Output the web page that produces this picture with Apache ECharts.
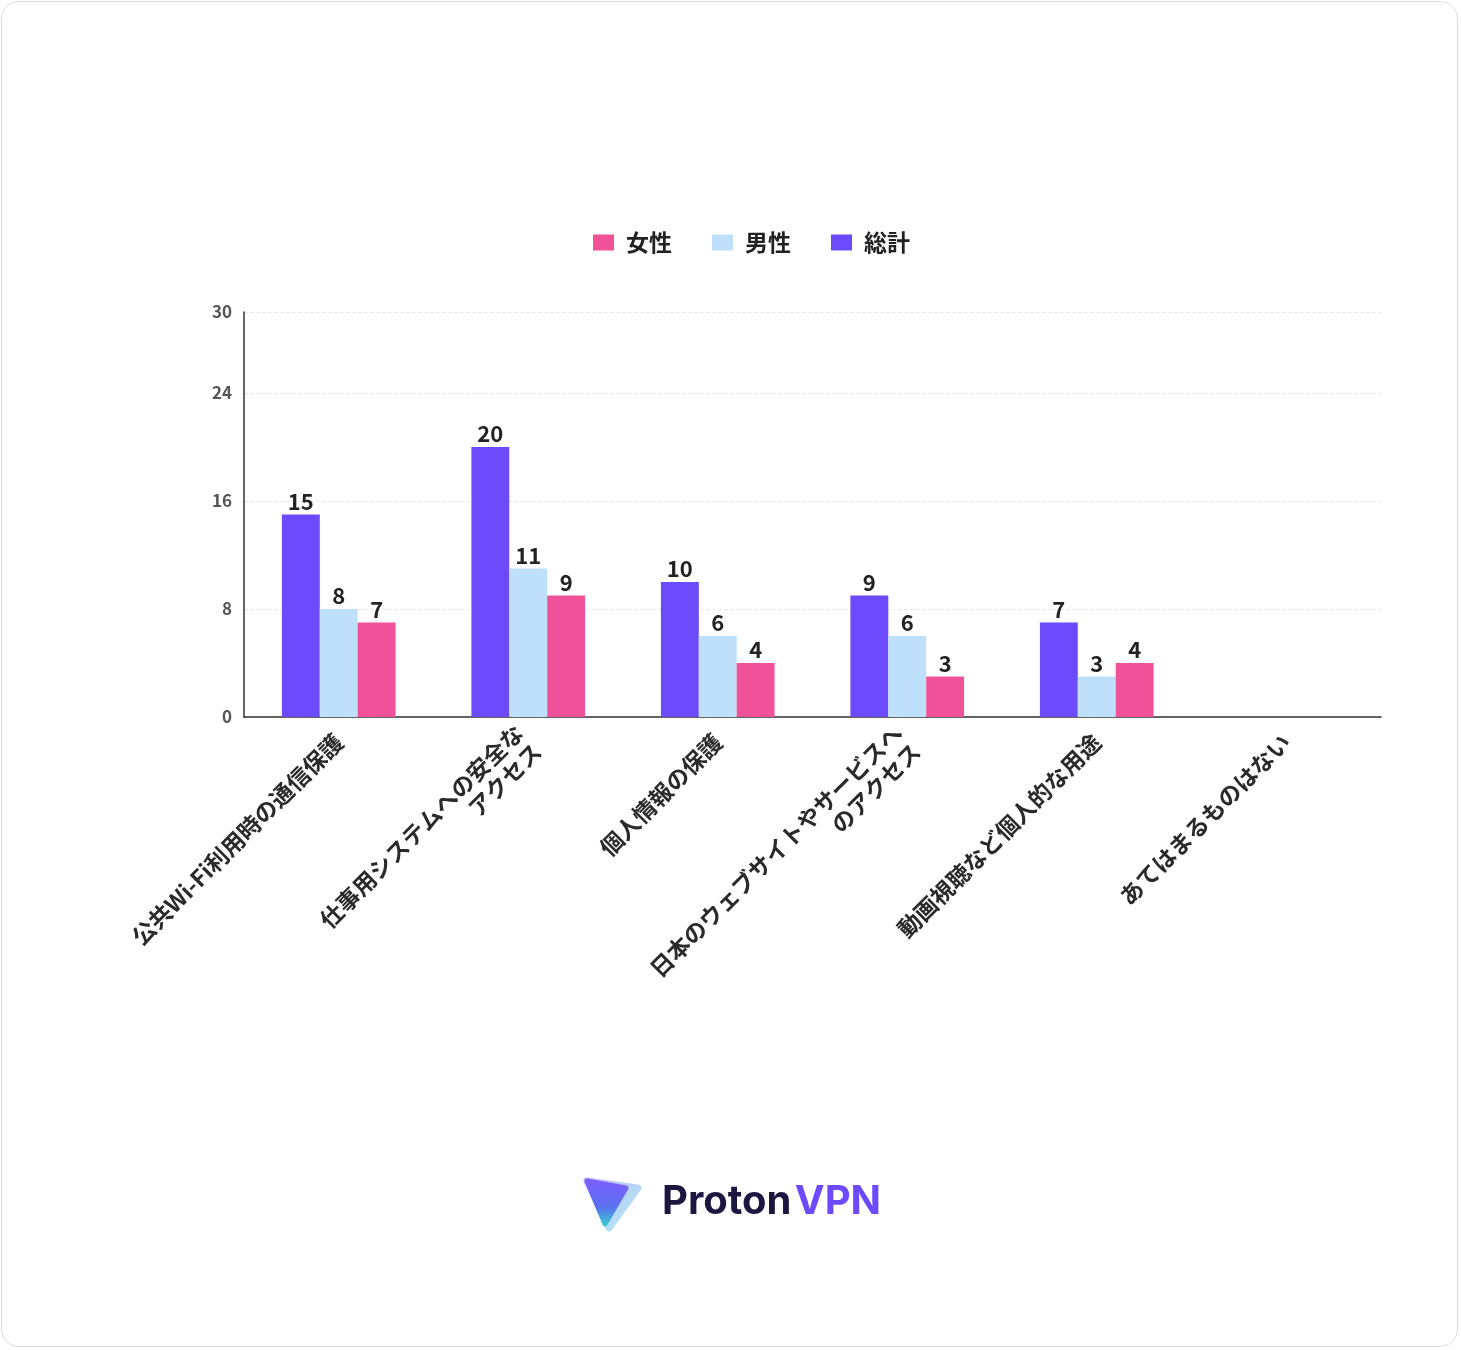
<!DOCTYPE html>
<html>
<head>
<meta charset="utf-8">
<script src="https://cdn.jsdelivr.net/npm/echarts@6/dist/echarts.min.js"></script>
<style>
  html, body { margin: 0; padding: 0; background: #fff; }
  #frame {
    position: absolute; left: 1px; top: 1px; width: 1457px; height: 1346px;
    border: 1px solid #dcdcdc; border-radius: 18px; box-sizing: border-box;
  }
  #container { position: absolute; left: 0; top: 0; width: 1461px; height: 1350px; }
</style>
</head>
<body>
<div id="frame"></div>
<div id="container"></div>
<script>
const categories = [
    '公共Wi-Fi利用時の通信保護',
    '仕事用システムへの安全な\nアクセス',
    '個人情報の保護',
    '日本のウェブサイトやサービスへ\nのアクセス',
    '動画視聴など個人的な用途',
    'あてはまるものはない'
]
const totalValues = [15, 20, 10, 9, 7, 0]
const maleValues = [8, 11, 6, 6, 3, 0]
const femaleValues = [7, 9, 4, 3, 4, 0]

const FONT = '"Noto Sans CJK JP", "Noto Sans", sans-serif'

const barLabel = {
    show: true,
    position: 'top',
    distance: 2,
    color: '#222',
    fontSize: 22,
    fontWeight: 'bold',
    fontFamily: FONT,
    formatter: (p) => p.value === 0 ? '' : p.value
}

let chart = echarts.init(document.getElementById('container'))

chart.setOption({
    backgroundColor: 'transparent',
    animation: false,
    textStyle: { fontFamily: FONT },
    legend: {
        top: 226,
        left: 588,
        itemWidth: 21,
        itemHeight: 16,
        itemGap: 40,
        icon: 'rect',
        data: ['女性', '男性', '総計'],
        textStyle: {
            color: '#222',
            fontSize: 23,
            fontWeight: 'bold',
            fontFamily: FONT,
            padding: [0, 0, 0, 7]
        }
    },
    grid: {
        left: 244,
        right: 80,
        top: 312,
        bottom: 633,
        containLabel: false
    },
    xAxis: {
        type: 'category',
        data: categories,
        axisLine: { lineStyle: { color: '#333', width: 1.5 } },
        axisTick: { show: false },
        axisLabel: {
            rotate: 45,
            margin: 21,
            interval: 0,
            color: '#2a2a2a',
            fontSize: 23,
            fontWeight: 'bold',
            lineHeight: 26,
            padding: [20, 0, 0, 0],
            fontFamily: FONT
        }
    },
    yAxis: {
        type: 'value',
        min: 0,
        max: 30,
        interval: 8,
        axisLine: { show: true, lineStyle: { color: '#333', width: 1.5 } },
        axisTick: { show: false },
        splitLine: { lineStyle: { color: '#e8e8e8', type: 'dashed', width: 1 } },
        axisLabel: {
            color: '#555',
            fontSize: 17,
            fontWeight: 'bold',
            margin: 12,
            fontFamily: FONT
        }
    },
    series: [
        {
            name: '総計',
            type: 'bar',
            data: totalValues,
            barGap: '0%',
            barCategoryGap: '40%',
            itemStyle: { color: '#6c4bfc' },
            label: barLabel
        },
        {
            name: '男性',
            type: 'bar',
            data: maleValues,
            itemStyle: { color: '#bfe0fa' },
            label: barLabel
        },
        {
            name: '女性',
            type: 'bar',
            data: femaleValues,
            itemStyle: { color: '#ef5299' },
            label: barLabel
        }
    ],
    graphic: [
        {
            type: 'polygon',
            shape: { points: [[587, 1181], [638, 1188], [609, 1228]] },
            style: {
                fill: new echarts.graphic.LinearGradient(0, 0, 1, 1, [
                    { offset: 0, color: '#c3b4ff' },
                    { offset: 1, color: '#aef2ee' }
                ]),
                stroke: new echarts.graphic.LinearGradient(0, 0, 1, 1, [
                    { offset: 0, color: '#c3b4ff' },
                    { offset: 1, color: '#aef2ee' }
                ]),
                lineWidth: 7,
                lineJoin: 'round'
            }
        },
        {
            type: 'polygon',
            shape: { points: [[587, 1181], [626, 1188], [605, 1224]] },
            style: {
                fill: new echarts.graphic.LinearGradient(0, 0, 0, 1, [
                    { offset: 0, color: '#7f5dff' },
                    { offset: 0.6, color: '#5a72f0' },
                    { offset: 1, color: '#35d0cc' }
                ]),
                stroke: new echarts.graphic.LinearGradient(0, 0, 0, 1, [
                    { offset: 0, color: '#7f5dff' },
                    { offset: 0.6, color: '#5a72f0' },
                    { offset: 1, color: '#35d0cc' }
                ]),
                lineWidth: 5,
                lineJoin: 'round'
            }
        },
        {
            type: 'text',
            left: 662,
            top: 1182,
            style: {
                text: '{a|Proton} {b|VPN}',
                rich: {
                    a: { fill: '#1b1740', fontSize: 40, fontWeight: 'bold', fontFamily: 'Inter, sans-serif' },
                    b: { fill: '#6d4aff', fontSize: 40, fontWeight: 'bold', fontFamily: 'Inter, sans-serif' }
                }
            }
        }
    ]
})

window.onresize = function () {
    chart.resize()
}
</script>
</body>
</html>
